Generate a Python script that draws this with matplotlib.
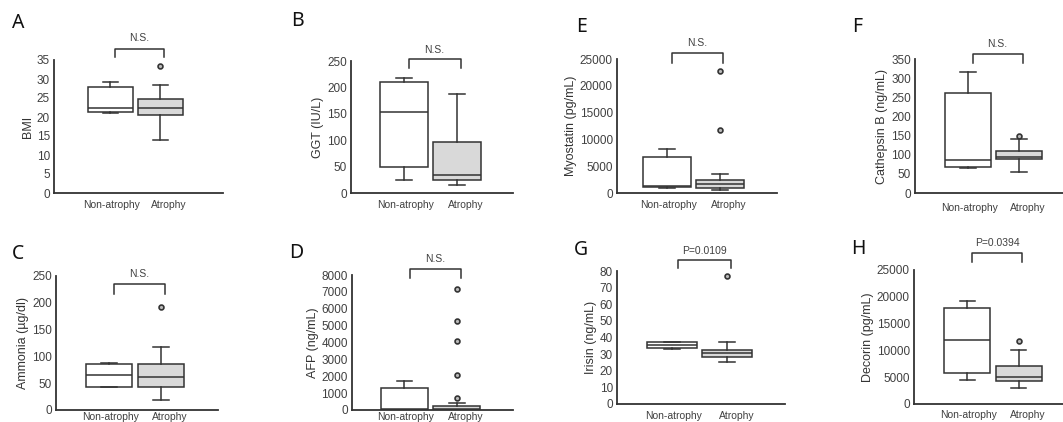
import matplotlib
matplotlib.use('Agg')
import matplotlib.pyplot as plt
from matplotlib.transforms import blended_transform_factory

plt.rcParams['font.family'] = ['Liberation Sans', 'DejaVu Sans']

groups = ['Non-atrophy', 'Atrophy']

# five-number summaries: whisker low, q1, median, q3, whisker high
bmi_non = [21.0, 21.2, 22.5, 28.0, 29.3]
bmi_atr = [14.0, 20.5, 22.3, 24.8, 28.5]
bmi_out = [33.5]

ggt_non = [25, 50, 153, 210, 218]
ggt_atr = [15, 25, 35, 97, 187]
ggt_out = []

ammonia_non = [42, 43, 65, 85, 87]
ammonia_atr = [18, 42, 62, 85, 117]
ammonia_out = [192]

afp_non = [10, 20, 40, 1300, 1700]
afp_atr = [5, 10, 60, 220, 420]
afp_out = [700, 2100, 4100, 5300, 7200]

myostatin_non = [1000, 1100, 1300, 6800, 8300]
myostatin_atr = [600, 1000, 1700, 2400, 3500]
myostatin_out = [11700, 22800]

cathepsin_non = [65, 68, 85, 262, 315]
cathepsin_atr = [55, 88, 95, 110, 140]
cathepsin_out = [150]

irisin_non = [33, 33.5, 35.5, 37.5, 37.5]
irisin_atr = [25, 28, 30.5, 32.5, 37]
irisin_out = [77]

decorin_non = [4500, 5800, 12000, 18000, 19300]
decorin_atr = [2900, 4200, 5000, 7000, 10000]
decorin_out = [11800]

W, H = 1063, 422


def to_fig(px, py):
    return px / W, 1 - py / H


# letter, ylabel, non, atr, outliers, ymax, ystep, p-text,
# axes px (x0, ytop, x1, ybot), xlim, letter px, bracket px (top, leg), text py, xlabel pad
panels = [
    ('A', 'BMI', bmi_non, bmi_atr, bmi_out, 35, 5, 'N.S.',
     (54, 60, 223, 193), (-0.12, 3.26), (18, 23), (49, 57), 38, 5),
    ('B', 'GGT (IU/L)', ggt_non, ggt_atr, ggt_out, 250, 50, 'N.S.',
     (351, 61, 513, 193), (0.0, 3.06), (297, 21), (59, 68), 50, 5),
    ('E', 'Myostatin (pg/mL)', myostatin_non, myostatin_atr, myostatin_out,
     25000, 5000, 'N.S.',
     (617, 59, 777, 193), (0.06, 3.08), (581, 27), (53, 63), 43, 5),
    ('F', 'Cathepsin B (ng/mL)', cathepsin_non, cathepsin_atr, cathepsin_out,
     350, 50, 'N.S.',
     (915, 59, 1075, 193), (-0.04, 3.1), (857, 27), (54, 63), 44, 7),
    ('C', 'Ammonia (\u00b5g/dl)', ammonia_non, ammonia_atr, ammonia_out,
     250, 50, 'N.S.',
     (56, 276, 218, 410), (-0.02, 3.1), (18, 254), (284, 294), 274, 1.5),
    ('D', 'AFP (ng/mL)', afp_non, afp_atr, afp_out, 8000, 1000, 'N.S.',
     (352, 275, 513, 410), (0.0, 3.07), (296, 253), (269, 278), 259, 1.5),
    ('G', 'Irisin (ng/mL)', irisin_non, irisin_atr, irisin_out, 80, 10,
     'P=0.0109',
     (617, 271, 785, 404), (0.0, 3.05), (581, 250), (260, 268), 251, 5),
    ('H', 'Decorin (pg/mL)', decorin_non, decorin_atr, decorin_out,
     25000, 5000, 'P=0.0394',
     (914, 270, 1075, 404), (-0.04, 3.1), (858, 249), (253, 262), 243, 4),
]

fig = plt.figure(figsize=(W / 100, H / 100), dpi=100)
ink = '#333333'

for (letter, ylabel, non, atr, outs, ymax, ystep, ptext,
     rect, xlim, lpos, brk, ty, xpad) in panels:
    x0, ytop, x1, ybot = rect
    ax = fig.add_axes([x0 / W, 1 - ybot / H, (x1 - x0) / W, (ybot - ytop) / H])

    stats = []
    for vals, fl in ((non, []), (atr, outs)):
        stats.append(dict(whislo=vals[0], q1=vals[1], med=vals[2],
                          q3=vals[3], whishi=vals[4], fliers=fl))
    bp = ax.bxp(stats, positions=[1, 2], widths=0.9, patch_artist=True,
                capwidths=0.3,
                boxprops=dict(edgecolor=ink, linewidth=1.1),
                medianprops=dict(color=ink, linewidth=1.1),
                whiskerprops=dict(color=ink, linewidth=1.1),
                capprops=dict(color=ink, linewidth=1.1),
                flierprops=dict(marker='o', markersize=3.5,
                                markerfacecolor='#bbbbbb',
                                markeredgecolor=ink, markeredgewidth=1.2))
    bp['boxes'][0].set_facecolor('white')
    bp['boxes'][1].set_facecolor('#d9d9d9')

    ax.set_xlim(*xlim)
    ax.set_ylim(0, ymax)
    ax.set_yticks(range(0, ymax + 1, ystep))
    # labels sit a little right of the boxes, as in the source figure
    ax.set_xticks([1.03, 2.17])
    ax.set_xticklabels(groups)
    ax.tick_params(axis='both', length=0, colors='#404040')
    ax.tick_params(axis='y', pad=3, labelsize=8.5)
    ax.tick_params(axis='x', pad=xpad, labelsize=7.5)
    ax.set_ylabel(ylabel, fontsize=9, color='#333333', labelpad=2)
    for s in ('top', 'right'):
        ax.spines[s].set_visible(False)
    for s in ('left', 'bottom'):
        ax.spines[s].set_color(ink)
        ax.spines[s].set_linewidth(1.3)

    # significance bracket
    tr = blended_transform_factory(ax.transData, fig.transFigure)
    ytop_f = 1 - brk[0] / H
    yleg_f = 1 - brk[1] / H
    ax.plot([1.1, 1.1, 2.07, 2.07], [yleg_f, ytop_f, ytop_f, yleg_f],
            color=ink, linewidth=1.1, transform=tr, clip_on=False)
    ax.text(1.58, 1 - ty / H, ptext, transform=tr, ha='center', va='center',
            fontsize=7.5, color='#404040')

    fx, fy = to_fig(*lpos)
    fig.text(fx, fy, letter, ha='center', va='center', fontsize=14,
             family=['Noto Sans', 'DejaVu Sans'], color='#111111')

fig.savefig('out.png', dpi=100)
